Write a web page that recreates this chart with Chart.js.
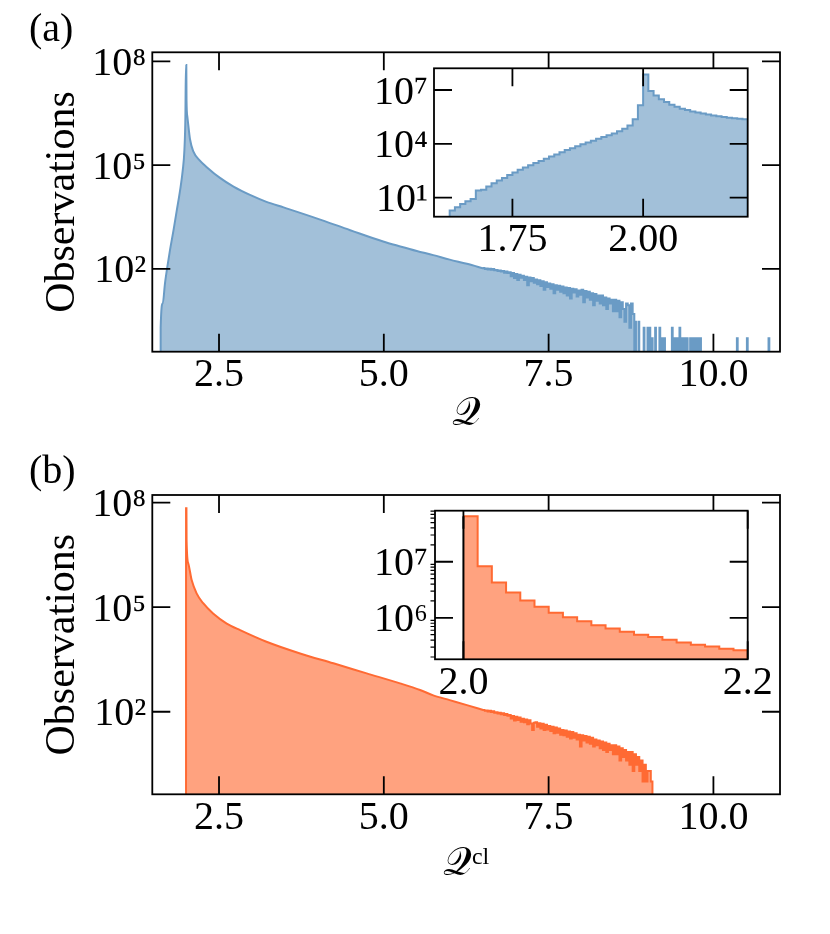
<!DOCTYPE html>
<html><head><meta charset="utf-8">
<script src="https://cdn.jsdelivr.net/npm/chart.js"></script>
<style>
html,body{margin:0;padding:0;background:#fff;}
#wrap{position:relative;width:830px;height:934px;overflow:hidden;background:#fff;}
canvas{position:absolute;}
</style></head><body>
<div id="wrap">
<canvas id="mainA" width="830" height="440" style="left:0;top:0"></canvas>
<canvas id="mainB" width="830" height="494" style="left:0;top:440px"></canvas>
<canvas id="insetA" width="450" height="250" style="left:340px;top:18px"></canvas>
<canvas id="insetB" width="450" height="250" style="left:340px;top:461px"></canvas>
</div>
<script>
// ---------------- data ----------------
const ZERO = 0.01;              // empty bin (drawn below the axis floor)

// (a) main histogram: smooth body readings (Q, observations)
const bodyQA = [1.6149, 1.615, 1.646, 1.68, 1.716, 1.757, 1.81, 1.86, 1.91, 1.95, 1.975, 1.99, 1.998, 2.004, 2.007, 2.02, 2.06, 2.11, 2.21, 2.31, 2.52, 2.72, 2.97, 3.22, 3.48, 3.98, 4.49, 4.99, 5.25, 5.5, 5.75, 6.0, 6.26, 6.52];
const bodyNA = [ZERO, 2, 10, 38, 115, 355, 1320, 5000, 19000, 72000, 275000, 2.5e6, 7.8e7, 7.8e7, 7.6e6, 2.5e6, 5.6e5, 2.5e5, 1.35e5, 8.9e4, 4.2e4, 2.4e4, 1.38e4, 8.7e3, 6.0e3, 2.9e3, 1.32e3, 620, 447, 331, 251, 186, 141, 103];
// (a) noisy tail: bins of 0.025 starting at 6.5
const tailStartA = 6.5, tailBinA = 0.025;
const tailNA = [106, 100, 104, 97, 102, 95, 99, 92,
  94, 87, 91, 84, 88, 78, 85, 76,
  80, 62, 76, 55, 72, 48, 68, 56,
  64, 48, 60, 34, 57, 44, 55, 40,
  50, 36, 47, 32, 44, 25, 41, 30,
  38, 27, 36, 20, 34, 25, 33, 22,
  31, 20, 29, 17, 28, 14, 27, 21,
  26, 16, 24, 18, 25, 11, 23, 15,
  22, 13, 20, 9, 19, 12, 17, 10,
  17, 9, 15, 7, 14, 10, 13, 6,
  13, 6, 12, 4, 11, 7, 3, 10,
  9, 2, 10, 5];
// (a) isolated rare bins
const spikeBinA = 0.012;
const spikeQA = [8.813, 8.863, 8.942, 9.000, 9.030, 9.066, 9.116, 9.181, 9.218, 9.253, 9.370, 9.405, 9.445, 9.485, 9.521, 9.556, 9.597, 9.647, 9.688, 9.723, 9.758, 9.799, 10.356, 10.508, 10.836];
const spikeNA = [3, 3, 2, 2, 2, 1, 2, 2, 1, 1, 2, 1, 1, 2, 1, 1, 1, 1, 1, 1, 1, 1, 1, 1, 1];

// (a) inset: bins of 0.01 starting at 1.63
const insetStartA = 1.63, insetBinA = 0.01;
const insetNA = [1.9, 2.9, 4.5, 6.3, 8.5, 25, 28, 42, 63, 91,
  126, 182, 257, 355, 479, 646, 851, 1120, 1480, 1950,
  2570, 3390, 4470, 5750, 7410, 9550, 12000, 15100, 19100, 24000,
  30200, 38000, 50100, 69200, 105000, 234000, 1410000, 74100000, 8710000, 5010000,
  3020000, 2140000, 1510000, 1170000, 912000, 776000, 631000, 550000, 490000, 427000,
  380000, 347000, 316000, 288000, 269000, 251000, 234000];

// (b) main histogram body
const bodyQB = [1.9999, 2.0, 2.006, 2.008, 2.034, 2.085, 2.16, 2.26, 2.41, 2.617, 2.82, 3.22, 3.73, 4.235, 4.74, 5.246, 5.55, 5.75, 6.0, 6.26, 6.52];
const bodyNB = [ZERO, 6.9e7, 6.9e7, 8.5e6, 1.8e6, 6.0e5, 2.5e5, 1.3e5, 6.6e4, 3.4e4, 2.2e4, 1.02e4, 4.7e3, 2.45e3, 1.26e3, 650, 420, 295, 215, 155, 110];
const tailStartB = 6.5, tailBinB = 0.025;
const tailNB = [112, 106, 109, 101, 106, 98, 103, 94,
  97, 89, 93, 84, 90, 81, 86, 77,
  80, 64, 76, 56, 72, 58, 68, 52,
  63, 50, 60, 44, 57, 46, 30, 48,
  50, 37, 47, 33, 45, 30, 42, 31,
  39, 28, 37, 24, 35, 25, 33, 22,
  30, 21, 29, 19, 27, 17, 26, 18,
  24, 16, 22, 10, 21, 15, 20, 13,
  19, 12, 18, 10, 16, 11, 15, 9,
  14, 8, 13, 7, 12, 8, 11, 6,
  11, 6, 10, 4, 9, 5, 8, 4,
  7, 3, 7, 2, 6, 3, 5, 2,
  4, 1, 3, 1, 2, 2, 1];
// (b) inset: bins of 0.01 starting at 2.00
const insetStartB = 2.0, insetBinB = 0.01;
const insetNB = [6.46e7, 8.3e6, 4.27e6, 2.82e6, 2.04e6, 1.58e6, 1.23e6, 1.02e6, 8.7e5, 7.4e5,
  6.46e5, 5.62e5, 5.01e5, 4.57e5, 4.07e5, 3.63e5, 3.31e5, 3.09e5, 2.82e5, 2.63e5];
const qMinCl = 2.0;

// ticks and axis limits
const xTicksMain = [2.5, 5.0, 7.5, 10.0];
const yTicksMain = [1e2, 1e5, 1e8];
const xTicksInsetA = [1.75, 2.00];
const yTicksInsetA = [1e1, 1e4, 1e7];
const xTicksInsetB = [2.0, 2.2];
const yTicksInsetB = [1e6, 1e7];
const minorInsetB = [2e5,3e5,4e5,5e5,6e5,7e5,8e5,9e5,2e6,3e6,4e6,5e6,6e6,7e6,8e6,9e6,2e7,3e7,4e7,5e7,6e7,7e7,8e7];

// ---------------- styling ----------------
const FONT = "'Liberation Serif', 'DejaVu Serif', serif";
const BLUE_FILL = '#a2c0d9', BLUE_EDGE = '#6a9bc5';
const ORANGE_FILL = '#ffa27f', ORANGE_EDGE = '#ff6a33';
const SUP = {'0':'⁰','1':'¹','2':'²','3':'³','4':'⁴','5':'⁵','6':'⁶','7':'⁷','8':'⁸','9':'⁹','-':'⁻'};
const pow10Label = v => '10' + String(Math.round(Math.log10(v))).split('').map(c => SUP[c]).join('');

const pts = (qs, ns) => qs.map((q, i) => ({x: q, y: ns[i]}));
const stepPts = (start, bin, ns) => ns.map((n, i) => ({x: +(start + i * bin).toFixed(4), y: n}))
  .concat([{x: +(start + ns.length * bin).toFixed(4), y: ZERO}]);
const spikePts = (qs, ns, w) => qs.flatMap((q, i) => [{x: q, y: ns[i]}, {x: +(q + w).toFixed(4), y: ZERO}]);

const decorPlugin = {
  id: 'decor',
  beforeDraw(chart, args, opts) {
    const {ctx, chartArea: a} = chart;
    ctx.save();
    ctx.fillStyle = '#fff';
    if (opts.fullBg) ctx.fillRect(0, 0, chart.width, chart.height);
    else ctx.fillRect(a.left, a.top, a.right - a.left, a.bottom - a.top);
    ctx.restore();
  },
  afterDatasetsDraw(chart, args, opts) {
    const {ctx, chartArea: a, scales: {x, y}} = chart;
    ctx.save();
    ctx.strokeStyle = '#000';
    if (opts.markerQ !== undefined) {
      ctx.lineWidth = 2;
      ctx.beginPath();
      const px = x.getPixelForValue(opts.markerQ);
      ctx.moveTo(px, a.bottom);
      ctx.lineTo(px, y.getPixelForValue(opts.markerTop));
      ctx.stroke();
    }
    const L = 18;
    ctx.lineWidth = 1.8;
    ctx.beginPath();
    x.ticks.forEach(t => {
      const px = x.getPixelForValue(t.value);
      ctx.moveTo(px, a.bottom); ctx.lineTo(px, a.bottom - L);
      ctx.moveTo(px, a.top); ctx.lineTo(px, a.top + L);
    });
    y.ticks.forEach(t => {
      const py = y.getPixelForValue(t.value);
      ctx.moveTo(a.left, py); ctx.lineTo(a.left + L, py);
      ctx.moveTo(a.right, py); ctx.lineTo(a.right - L, py);
    });
    ctx.stroke();
    if (opts.minor) {
      ctx.lineWidth = 1.2;
      ctx.beginPath();
      opts.minor.forEach(v => {
        if (v <= y.min || v >= y.max) return;
        const py = y.getPixelForValue(v);
        ctx.moveTo(a.left, py); ctx.lineTo(a.left - 4.5, py);
      });
      ctx.stroke();
    }
    ctx.lineWidth = 1.8;
    ctx.strokeRect(a.left, a.top, a.right - a.left, a.bottom - a.top);
    ctx.restore();
  },
  afterDraw(chart, args, opts) {
    if (!opts.panel) return;
    const ctx = chart.ctx;
    ctx.save();
    ctx.font = '40px ' + FONT;
    ctx.fillStyle = '#000';
    ctx.textBaseline = 'alphabetic';
    ctx.fillText(opts.panel.text, opts.panel.x, opts.panel.y);
    ctx.restore();
  }
};

function histChart(id, o) {
  return new Chart(document.getElementById(id), {
    type: 'line',
    data: {datasets: o.datasets},
    options: {
      responsive: false, animation: false, devicePixelRatio: 1, events: [],
      layout: {padding: o.pad},
      elements: {point: {radius: 0}},
      plugins: {legend: {display: false}, tooltip: {enabled: false}, decor: o.decor},
      scales: {
        x: {
          type: 'linear', min: o.xmin, max: o.xmax,
          afterBuildTicks: s => { s.ticks = o.xticks.map(v => ({value: v})); },
          afterFit: s => { s.height = o.xH; },
          grid: {display: false, drawTicks: false}, border: {display: false},
          ticks: {callback: v => Number(v).toFixed(o.xdec), font: {family: FONT, size: 40}, color: '#000',
                  padding: 0, autoSkip: false, maxRotation: 0},
          title: o.xtitle ? {display: true, text: o.xtitle, font: {family: FONT, size: 40}, color: '#000',
                  padding: {top: 0, bottom: o.xtitlePad}} : {display: false}
        },
        y: {
          type: 'logarithmic', min: o.ymin, max: o.ymax,
          afterBuildTicks: s => { s.ticks = o.yticks.map(v => ({value: v})); },
          afterFit: s => { s.width = o.yW; },
          grid: {display: false, drawTicks: false}, border: {display: false},
          ticks: {callback: v => pow10Label(v), font: {family: FONT, size: 40}, color: '#000',
                  padding: o.ypad, labelOffset: 3, autoSkip: false},
          title: o.ytitle ? {display: true, text: o.ytitle, font: {family: FONT, size: 42}, color: '#000',
                  padding: {top: o.ytitlePad, bottom: 0}} : {display: false}
        }
      }
    },
    plugins: [decorPlugin]
  });
}

const histStyle = (fill, edge) => ({fill: 'start', backgroundColor: fill, borderColor: edge, borderWidth: 2, clip: 0, pointRadius: 0});

// (a) main
histChart('mainA', {
  datasets: [
    Object.assign({data: pts(bodyQA, bodyNA), cubicInterpolationMode: 'monotone'}, histStyle(BLUE_FILL, BLUE_EDGE)),
    Object.assign({data: stepPts(tailStartA, tailBinA, tailNA).concat(spikePts(spikeQA, spikeNA, spikeBinA)), stepped: 'before'}, histStyle(BLUE_FILL, BLUE_EDGE))
  ],
  pad: {left: 0, top: 52.3, right: 50, bottom: 0},
  xmin: 1.488, xmax: 11.01, xticks: xTicksMain, xdec: 1, xH: 88.3,
  ymin: 0.407, ymax: 1.82e8, yticks: yTicksMain, yW: 152.3, ypad: 6,
  xtitle: '𝒬', xtitlePad: 2, ytitle: 'Observations', ytitlePad: 38,
  decor: {fullBg: true, panel: {text: '(a)', x: 29, y: 41}}
});
// (b) main
histChart('mainB', {
  datasets: [
    Object.assign({data: pts(bodyQB, bodyNB), cubicInterpolationMode: 'monotone'}, histStyle(ORANGE_FILL, ORANGE_EDGE)),
    Object.assign({data: stepPts(tailStartB, tailBinB, tailNB), stepped: 'before'}, histStyle(ORANGE_FILL, ORANGE_EDGE))
  ],
  pad: {left: 0, top: 55, right: 50, bottom: 0},
  xmin: 1.488, xmax: 11.01, xticks: xTicksMain, xdec: 1, xH: 139.7,
  ymin: 0.427, ymax: 1.66e8, yticks: yTicksMain, yW: 152.3, ypad: 6,
  xtitle: '𝒬ᶜˡ', xtitlePad: 46, ytitle: 'Observations', ytitlePad: 38,
  decor: {fullBg: true, panel: {text: '(b)', x: 29, y: 43}}
});
// (a) inset
histChart('insetA', {
  datasets: [
    Object.assign({data: [{x: insetStartA, y: ZERO}].concat(stepPts(insetStartA, insetBinA, insetNA)), stepped: 'before'}, histStyle(BLUE_FILL, BLUE_EDGE))
  ],
  pad: {left: 0, top: 50.3, right: 42.3, bottom: 0},
  xmin: 1.6, xmax: 2.2, xticks: xTicksInsetA, xdec: 2, xH: 51.3,
  ymin: 0.871, ymax: 1.62e8, yticks: yTicksInsetA, yW: 94, ypad: 6,
  decor: {fullBg: false}
});
// (b) inset
histChart('insetB', {
  datasets: [
    Object.assign({data: stepPts(insetStartB, insetBinB, insetNB), stepped: 'before'}, histStyle(ORANGE_FILL, ORANGE_EDGE))
  ],
  pad: {left: 0, top: 49.7, right: 42.3, bottom: 0},
  xmin: 1.98, xmax: 2.2, xticks: xTicksInsetB, xdec: 1, xH: 51.7,
  ymin: 1.82e5, ymax: 8.13e7, yticks: yTicksInsetB, yW: 95, ypad: 7,
  decor: {fullBg: false, minor: minorInsetB, markerQ: qMinCl, markerTop: insetNB[0]}
});
</script>
</body></html>
